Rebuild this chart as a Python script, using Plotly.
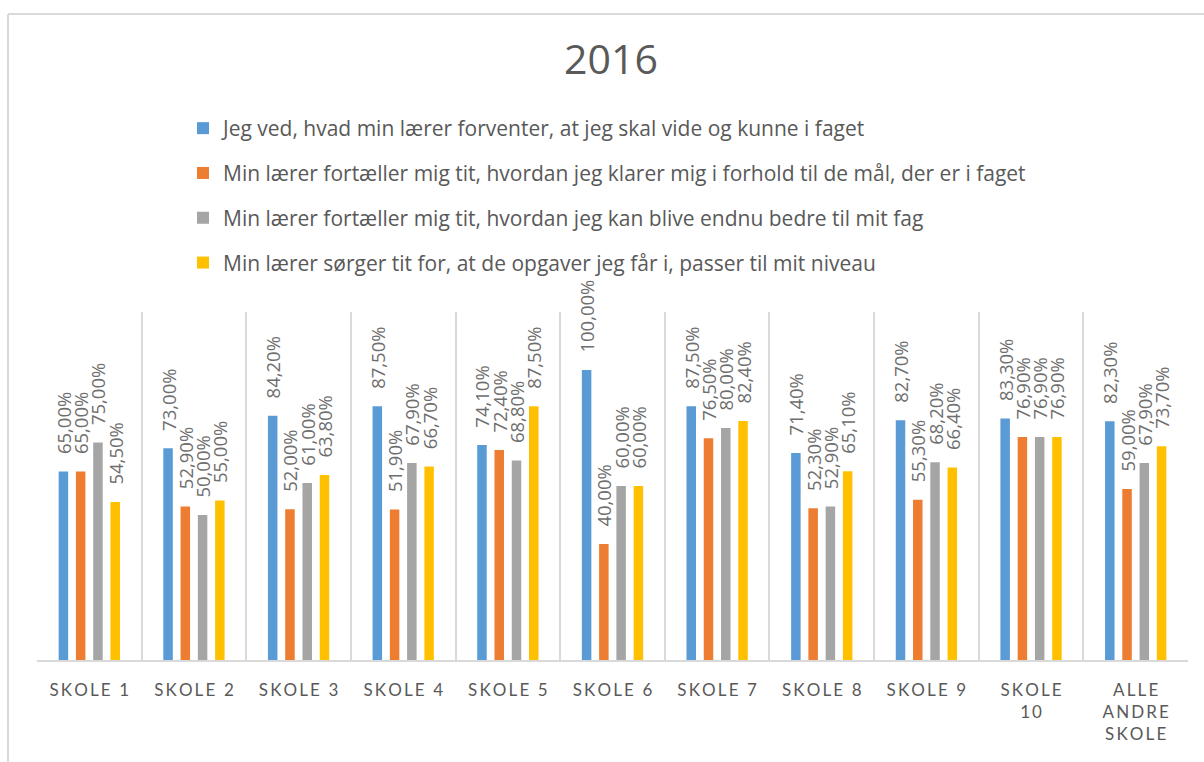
import plotly.graph_objects as go

categories = ["SKOLE 1", "SKOLE 2", "SKOLE 3", "SKOLE 4", "SKOLE 5", "SKOLE 6",
              "SKOLE 7", "SKOLE 8", "SKOLE 9", "SKOLE 10", "ALLE ANDRE SKOLE"]
tick_labels = ["SKOLE 1", "SKOLE 2", "SKOLE 3", "SKOLE 4", "SKOLE 5", "SKOLE 6",
               "SKOLE 7", "SKOLE 8", "SKOLE 9", "SKOLE<br>10", "ALLE<br>ANDRE<br>SKOLE"]

series_names = [
    "Jeg ved, hvad min lærer forventer, at jeg skal vide og kunne i faget",
    "Min lærer fortæller mig tit, hvordan jeg klarer mig i forhold til de mål, der er i faget",
    "Min lærer fortæller mig tit, hvordan jeg kan blive endnu bedre til mit fag",
    "Min lærer sørger tit for, at de opgaver jeg får i, passer til mit niveau",
]
s1 = [65.0, 73.0, 84.2, 87.5, 74.1, 100.0, 87.5, 71.4, 82.7, 83.3, 82.3]
s2 = [65.0, 52.9, 52.0, 51.9, 72.4, 40.0, 76.5, 52.3, 55.3, 76.9, 59.0]
s3 = [75.0, 50.0, 61.0, 67.9, 68.8, 60.0, 80.0, 52.9, 68.2, 76.9, 67.9]
s4 = [54.5, 55.0, 63.8, 66.7, 87.5, 60.0, 82.4, 65.1, 66.4, 76.9, 73.7]
colors = ["#5B9BD5", "#ED7D31", "#A5A5A5", "#FFC000"]

FONT = "Open Sans"
TICKFONT = "Lato"
TXT = "#595959"
LBL = "#6E6E6E"


def spaced(label, sep="\u2009"):
    parts = label.split("<br>")
    return "<br>".join(sep.join(list(p)) for p in parts)


def fmt(v):
    return "\u00a0\u00a0\u00a0" + f"{v:.2f}".replace(".", ",") + "%"


fig = go.Figure()
for i, (name, vals) in enumerate(zip(series_names, [s1, s2, s3, s4])):
    fig.add_trace(go.Bar(
        x=categories, y=vals, name=name,
        marker=dict(color=colors[i], line=dict(width=0)),
        text=[fmt(v) for v in vals],
        textposition="outside", textangle=-90,
        textfont=dict(family=FONT, size=18.5, color=LBL),
        constraintext="none", cliponaxis=False,
        legendgroup=f"g{i}", hoverinfo="skip",
    ))

W, H = 1204, 762
L, R, T, B = 37, 16, 312, 102
pw, ph = W - L - R, H - T - B


def px_x(p):
    return (p - L) / pw


def px_y(p):
    return (H - B - p) / ph


fig.update_layout(
    width=W, height=H,
    margin=dict(l=L, r=R, t=T, b=B, pad=0),
    paper_bgcolor="white", plot_bgcolor="white",
    barmode="group", bargap=0.34, bargroupgap=0.45,
    title=dict(text="2016", x=611 / W, xref="container", xanchor="center",
               y=1 - 60 / H, yanchor="middle",
               font=dict(family=FONT, size=41, color=TXT)),
    legend=dict(orientation="v", x=px_x(183), xanchor="left",
                y=px_y(108), yanchor="top", tracegroupgap=14.5,
                font=dict(family=FONT, size=21, color=TXT),
                bgcolor="rgba(0,0,0,0)"),
    font=dict(family=FONT, color=TXT),
    showlegend=True,
    xaxis=dict(
        type="category", tickmode="array", tickvals=categories,
        ticktext=[spaced(t) for t in tick_labels],
        tickson="boundaries", ticks="", showgrid=True,
        gridcolor="#D9D9D9", gridwidth=1.5,
        showline=True, linecolor="#D9D9D9", linewidth=1.5,
        tickfont=dict(family=TICKFONT, size=17, color=TXT),
        ticklabelstandoff=14, fixedrange=True,
    ),
    yaxis=dict(range=[0, 120], visible=False, showgrid=False, fixedrange=True),
    shapes=[
        dict(type="line", xref="paper", yref="paper",
             x0=px_x(8), x1=px_x(8), y0=px_y(14), y1=px_y(800),
             line=dict(color="#D9D9D9", width=2)),
        dict(type="line", xref="paper", yref="paper",
             x0=px_x(8), x1=px_x(1250), y0=px_y(14), y1=px_y(14),
             line=dict(color="#D9D9D9", width=2)),
    ],
)

fig.write_html(
    "out.html",
    config={"displayModeBar": False},
    post_script="document.body.style.margin='0';document.body.style.overflow='hidden';",
)
